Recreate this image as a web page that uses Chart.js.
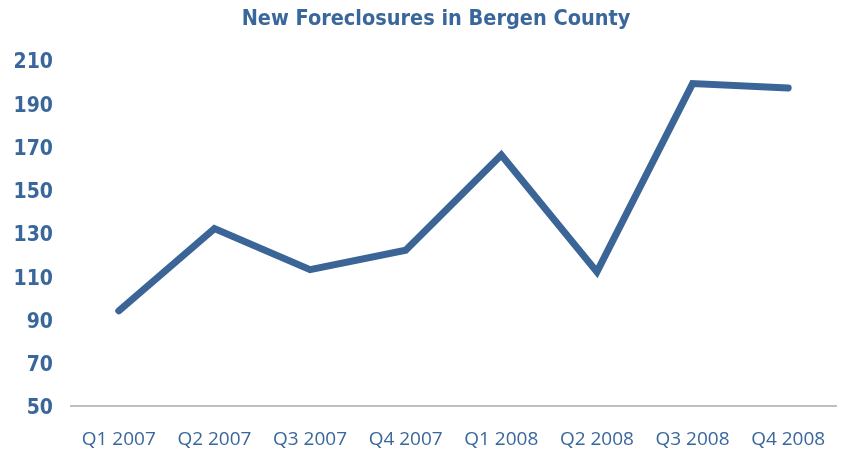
<!DOCTYPE html>
<html>
<head>
<meta charset="utf-8">
<script src="https://cdn.jsdelivr.net/npm/chart.js@4.4.1/dist/chart.umd.min.js"></script>
<style>
  html, body { margin: 0; padding: 0; background: #ffffff; }
  #wrap { width: 841px; height: 453px; position: relative; }
</style>
</head>
<body>
<div id="wrap"><canvas id="c" width="841" height="453"></canvas></div>
<script>
const categories = ["Q1 2007", "Q2 2007", "Q3 2007", "Q4 2007", "Q1 2008", "Q2 2008", "Q3 2008", "Q4 2008"];
const foreclosures = [94, 132, 113, 122, 166, 112, 199, 197];
const yTicks = [50, 70, 90, 110, 130, 150, 170, 190, 210];
const titleText = "New Foreclosures in Bergen County";

const blue = "#3b6597";
const textBlue = "#3a679b";

// shift the title block so its centre sits where the reference has it
const titleShift = {
  id: "titleShift",
  afterLayout(chart) {
    const t = chart.titleBlock;
    if (t) { t.left = 36; }
  }
};

new Chart(document.getElementById("c"), {
  type: "line",
  data: {
    labels: categories,
    datasets: [{
      data: foreclosures,
      borderColor: blue,
      borderWidth: 7,
      borderCapStyle: "round",
      borderJoinStyle: "miter",
      pointRadius: 0,
      pointHoverRadius: 0,
      tension: 0,
      fill: false
    }]
  },
  plugins: [titleShift],
  options: {
    responsive: false,
    animation: false,
    devicePixelRatio: 1,
    layout: { padding: { left: 0, right: 5, top: 0, bottom: 0 } },
    plugins: {
      legend: { display: false },
      tooltip: { enabled: false },
      title: {
        display: true,
        text: titleText,
        color: textBlue,
        font: { family: "'DejaVu Sans Condensed', 'DejaVu Sans'", weight: "bold", size: 21.5 },
        padding: { top: 7, bottom: 27 }
      }
    },
    scales: {
      x: {
        type: "category",
        offset: true,
        grid: { display: false, drawTicks: false },
        border: { display: true, color: "#bfbfbf", width: 2 },
        ticks: {
          color: textBlue,
          font: { family: "'Open Sans'", size: 19 },
          padding: 22,
          maxRotation: 0,
          autoSkip: false
        },
        afterFit: (s) => { s.height = 47; s.paddingLeft = 0; s.paddingRight = 0; }
      },
      y: {
        min: 50,
        max: 210,
        afterBuildTicks: (s) => { s.ticks = yTicks.map(v => ({ value: v })); },
        grid: { display: false, drawTicks: false },
        border: { display: false },
        ticks: {
          color: textBlue,
          font: { family: "'DejaVu Sans Condensed', 'DejaVu Sans'", weight: "bold", size: 21 },
          padding: 18,
          labelOffset: 3
        },
        afterFit: (s) => { s.width = 71; s.paddingTop = 0; s.paddingBottom = 0; }
      }
    }
  }
});
</script>
</body>
</html>
